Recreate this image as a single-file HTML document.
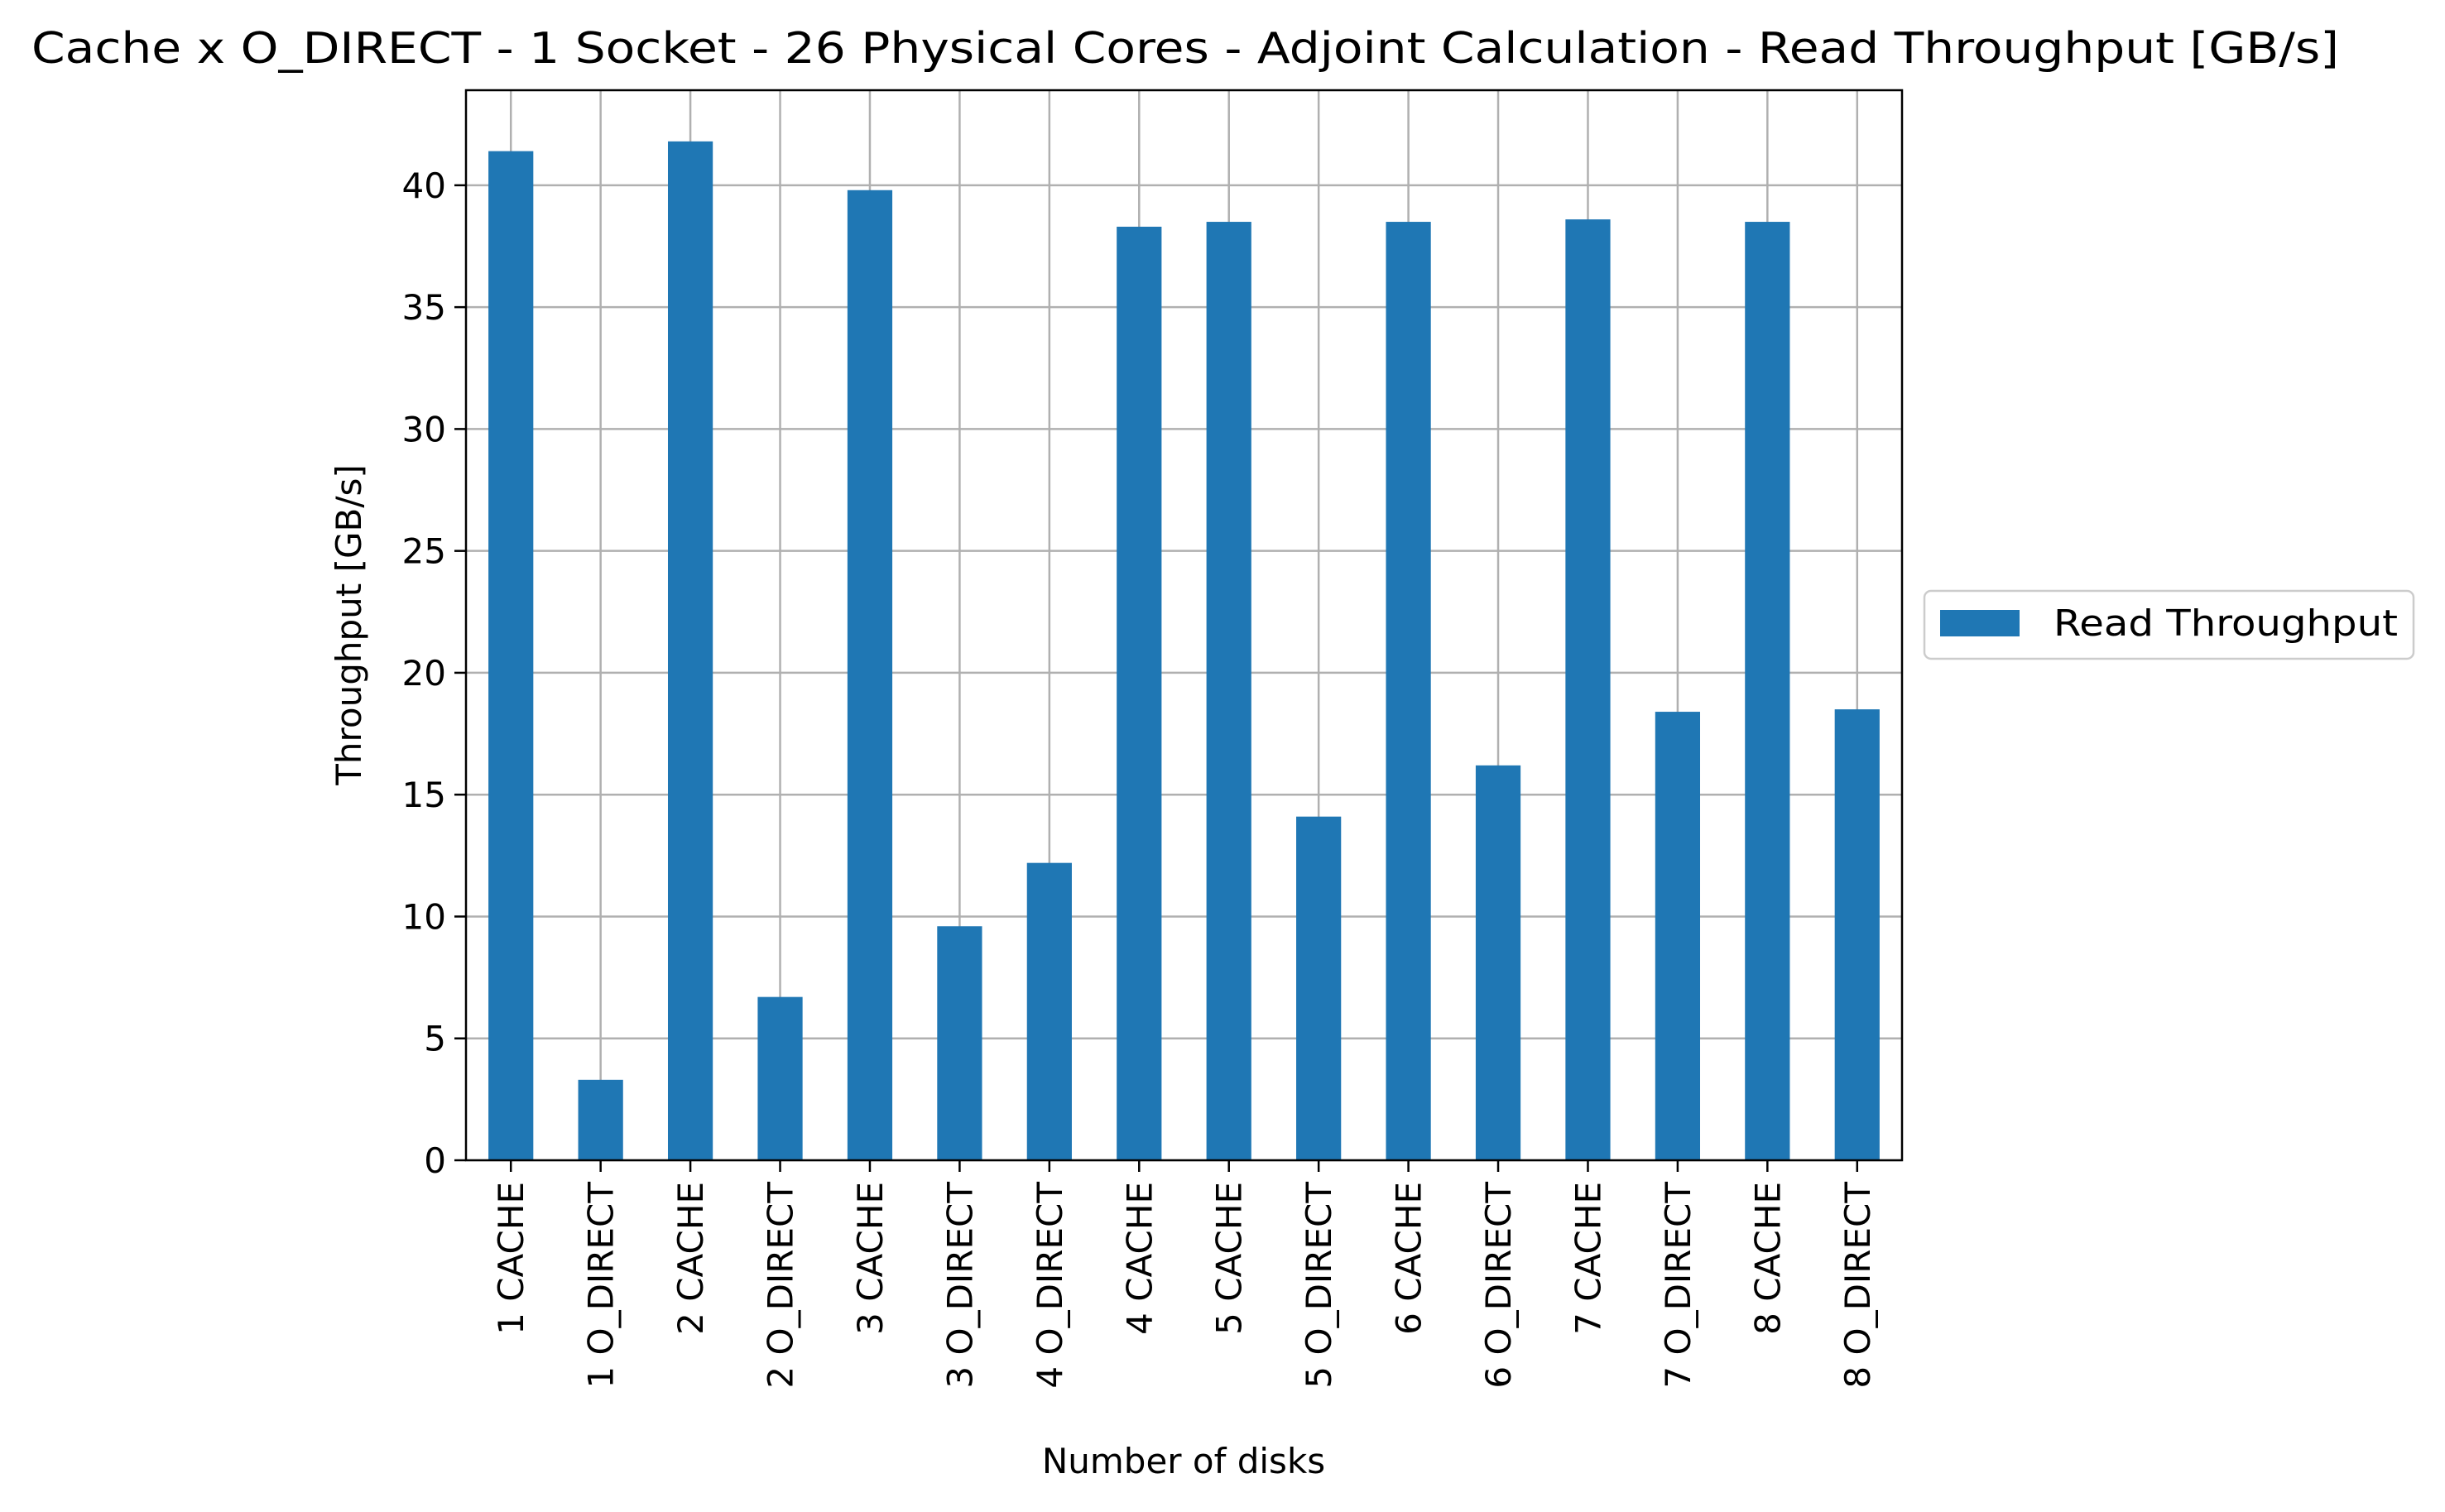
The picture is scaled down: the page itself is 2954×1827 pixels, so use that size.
<!DOCTYPE html>
<html><head><meta charset="utf-8"><style>
html,body{margin:0;padding:0;background:#fff}
svg{display:block;font-family:"DejaVu Sans","Liberation Sans",sans-serif}
</style></head><body>
<svg id="chart" width="2954" height="1827" viewBox="0 0 2954 1827" xmlns="http://www.w3.org/2000/svg">
<rect width="2954" height="1827" fill="#fff"/>
<text x="38" y="76" font-size="52" textLength="2788" lengthAdjust="spacingAndGlyphs" fill="#000">Cache x O_DIRECT - 1 Socket - 26 Physical Cores - Adjoint Calculation - Read Throughput [GB/s]</text>
<g id="grid"></g>
<g id="bars"></g>
<rect x="563" y="109" width="1735" height="1293" fill="none" stroke="#000" stroke-width="2.5"/>
<g id="xticks"></g>
<g id="yticks"></g>
<text transform="translate(436,755) rotate(-90)" font-size="42" text-anchor="middle">Throughput [GB/s]</text>
<text x="1430" y="1780" font-size="42" text-anchor="middle">Number of disks</text>
<g>
<rect x="2325" y="714" width="591" height="82" rx="8" fill="#fff" stroke="#ccc" stroke-width="2.5"/>
<rect x="2344" y="737" width="96" height="32" fill="#1f77b4"/>
<text x="2481" y="768" font-size="44" textLength="416" lengthAdjust="spacingAndGlyphs">Read Throughput</text>
</g>
</svg>
<script>
const categories = ["1 CACHE","1 O_DIRECT","2 CACHE","2 O_DIRECT","3 CACHE","3 O_DIRECT","4 O_DIRECT","4 CACHE","5 CACHE","5 O_DIRECT","6 CACHE","6 O_DIRECT","7 CACHE","7 O_DIRECT","8 CACHE","8 O_DIRECT"];
const readThroughput = [41.4,3.3,41.8,6.7,39.8,9.6,12.2,38.3,38.5,14.1,38.5,16.2,38.6,18.4,38.5,18.5];
const yTicks = [0,5,10,15,20,25,30,35,40];

const NS="http://www.w3.org/2000/svg";
const L=563,R=2298,T=109,B=1402;
const yMax=43.9;
function yScale(v){return B-(v/yMax)*(B-T);}
const step=(R-L)/categories.length;
function xScale(i){return L+step*(i+0.5);}
function mk(tag,attrs,parent){const e=document.createElementNS(NS,tag);for(const k in attrs)e.setAttribute(k,attrs[k]);parent.appendChild(e);return e;}
const grid=document.getElementById('grid'),bars=document.getElementById('bars'),xt=document.getElementById('xticks'),yt=document.getElementById('yticks');
yTicks.forEach(v=>{
  const y=yScale(v);
  const g=mk('line',{x1:L,x2:R,y1:y,y2:y,stroke:'#b0b0b0','stroke-width':2.5},grid);
  
  
  const t=mk('line',{x1:L-14,x2:L,y1:y,y2:y,stroke:'#000','stroke-width':2.5},yt);
  
  
  const tx=mk('text',{x:L-24,y:y+15,'font-size':42,'text-anchor':'end'},yt);
  tx.textContent=v;
  
  
});
categories.forEach((c,i)=>{
  const x=xScale(i);
  const g=mk('line',{x1:x,x2:x,y1:T,y2:B,stroke:'#b0b0b0','stroke-width':2.5},grid);
  
  
  const bw=step*0.5,y=yScale(readThroughput[i]);
  const b=mk('rect',{x:x-bw/2,y:y,width:bw,height:B-y,fill:'#1f77b4'},bars);
  
  
  const t=mk('line',{x1:x,x2:x,y1:B,y2:B+14,stroke:'#000','stroke-width':2.5},xt);
  
  
  const tx=mk('text',{transform:`translate(${x+15},${B+26}) rotate(-90)`,'font-size':42,'text-anchor':'end'},xt);
  tx.textContent=c;
  
  
});
</script>
</body></html>
